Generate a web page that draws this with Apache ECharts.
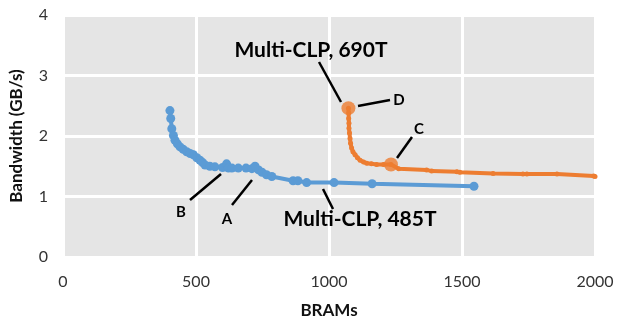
<!DOCTYPE html>
<html><head><meta charset="utf-8">
<script src="https://cdn.jsdelivr.net/npm/echarts@6/dist/echarts.min.js"></script>
<style>html,body{margin:0;padding:0;background:#fff}#c{width:618px;height:323px}</style>
</head><body><div id="c"></div>
<script>
// X axis ticks and Y axis ticks
var xTicks = [0, 500, 1000, 1500, 2000];
var yTicks = [0, 1, 2, 3, 4];
// Multi-CLP 485T (blue): [BRAMs, GB/s]
var blue485 = [
  [402,2.42],[405,2.29],[409,2.12],[415,2.01],[421,1.93],[430,1.87],[440,1.82],[452,1.78],[465,1.74],[478,1.71],
  [490,1.69],[503,1.64],[515,1.60],[525,1.56],[534,1.52],[552,1.50],[571,1.49],[600,1.48],[615,1.54],[622,1.47],
  [635,1.47],[659,1.47],[688,1.47],[710,1.46],[722,1.50],[735,1.44],[748,1.40],[765,1.36],[785,1.33],[865,1.26],
  [883,1.26],[916,1.23],[1019,1.23],[1162,1.21],[1545,1.17]
];
// Multi-CLP 690T (orange): [BRAMs, GB/s]
var orange690 = [
  [1073,2.46],[1074,2.38],[1074,2.29],[1075,2.21],[1075,2.13],[1077,2.05],[1079,1.96],[1081,1.88],[1085,1.80],
  [1090,1.74],[1098,1.69],[1107,1.64],[1117,1.60],[1130,1.57],[1142,1.55],[1160,1.54],[1179,1.53],[1205,1.53],
  [1233,1.53],[1262,1.46],[1367,1.44],[1386,1.42],[1481,1.41],[1492,1.40],[1617,1.38],[1729,1.37],[1744,1.37],
  [1857,1.37],[1995,1.34],[2000,1.33]
];
// Highlighted points D and C
var highlighted = [[1073,2.46],[1233,1.53]];

var chart = echarts.init(document.getElementById('c'));
var font = 'Lato, "Open Sans", sans-serif';
var txt = function(x, y, s, size){ return {type:'text', x:x, y:y, style:{text:s, font:'bold '+size+'px '+font, fill:'#000', align:'center', verticalAlign:'middle'}, z:100}; };
var ln = function(x1,y1,x2,y2){ return {type:'line', shape:{x1:x1,y1:y1,x2:x2,y2:y2}, style:{stroke:'#000', lineWidth:2.5}, z:100}; };
chart.setOption({
  animation:false,
  grid:{left:63, right:23, top:15, bottom:66, show:true, backgroundColor:'#e5e5e5', borderWidth:0, outerBoundsMode:'none', containLabel:false},
  xAxis:{type:'value', min:xTicks[0], max:xTicks[xTicks.length-1], interval:500,
    axisLine:{show:false}, axisTick:{show:false},
    axisLabel:{fontSize:16, color:'#333', fontFamily:font, margin:17, formatter:function(v){return String(v);}},
    splitLine:{show:true, lineStyle:{color:'#fff', width:3}},
    name:'BRAMs', nameLocation:'middle', nameGap:45, nameTextStyle:{fontSize:17, fontWeight:'bold', color:'#111', fontFamily:font}},
  yAxis:{type:'value', min:yTicks[0], max:yTicks[yTicks.length-1], interval:1,
    axisLine:{show:false}, axisTick:{show:false},
    axisLabel:{fontSize:16, color:'#333', fontFamily:font, margin:15},
    splitLine:{show:true, lineStyle:{color:'#fff', width:3}},
    name:'Bandwidth (GB/s)', nameLocation:'middle', nameGap:38, nameTextStyle:{fontSize:17, fontWeight:'bold', color:'#111', fontFamily:font}},
  series:[
    {type:'line', data:blue485, symbol:'circle', symbolSize:9, showSymbol:true,
      lineStyle:{color:'#5b9bd5', width:4}, itemStyle:{color:'#5b9bd5'}, z:2},
    {type:'line', data:orange690, symbol:'circle', symbolSize:5, showSymbol:true,
      lineStyle:{color:'#ed7d31', width:4}, itemStyle:{color:'#ed7d31'}, z:3},
    {type:'scatter', data:highlighted, symbol:'circle', symbolSize:14, itemStyle:{color:'#ed7d31'}, z:4}
  ],
  graphic:[
    txt(311,50,'Multi-CLP, 690T',21), ln(319,62,341,102),
    txt(399,100,'D',15), ln(358,106,390,100),
    txt(419,129,'C',15), ln(397,158,412,137),
    txt(181,212,'B',15), ln(190,200,221,174),
    txt(227,219,'A',15), ln(232,205,252,180),
    txt(360,219,'Multi-CLP, 485T',21), ln(323,189,333,209)
  ]
});
</script></body></html>
